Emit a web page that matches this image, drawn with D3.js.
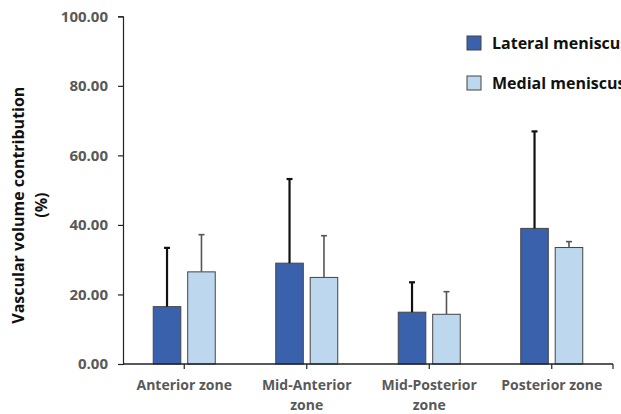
<!DOCTYPE html>
<html>
<head>
<meta charset="utf-8">
<script src="https://cdn.jsdelivr.net/npm/d3@7"></script>
<style>
  html, body { margin: 0; padding: 0; background: #fff; overflow: hidden; }
  svg { display: block; font-family: "Open Sans", "Liberation Sans", sans-serif; }
</style>
</head>
<body>
<svg id="chart" width="621" height="414"></svg>
<script>
// Zones along the meniscus (line breaks mark where the label wraps)
const categories = ["Anterior zone", "Mid-Anterior\nzone", "Mid-Posterior\nzone", "Posterior zone"];
const seriesNames = ["Lateral meniscus", "Medial meniscus"];
// Mean vascular volume contribution (%) per zone
const lateralMeans = [16.5, 29.0, 14.9, 39.0];
const medialMeans = [26.5, 24.9, 14.3, 33.5];
// Standard deviation (upper error bar)
const lateralSD = [16.9, 24.2, 8.6, 27.9];
const medialSD = [10.7, 12.0, 6.5, 1.7];
const yTicks = [0, 20, 40, 60, 80, 100];

const seriesStyle = {
  "Lateral meniscus": { fill: "#3A62AC", err: "#111111", errWidth: 2.2 },
  "Medial meniscus": { fill: "#BDD7EE", err: "#555555", errWidth: 1.6 }
};

const rows = categories.map((c, i) => ({
  category: c,
  values: [
    { series: seriesNames[0], mean: lateralMeans[i], sd: lateralSD[i] },
    { series: seriesNames[1], mean: medialMeans[i], sd: medialSD[i] }
  ]
}));

const svg = d3.select("#chart");
const plot = { left: 123, right: 613, top: 16.3, bottom: 364 };

const y = d3.scaleLinear().domain([0, 100]).range([plot.bottom, plot.top]);
const x = d3.scaleBand().domain(categories).range([plot.left, plot.right]).padding(0);
const inner = d3.scaleBand().domain(seriesNames).range([-31, 31]).paddingInner(0.2).paddingOuter(0);

// Y axis
const yAxis = svg.append("g")
  .attr("transform", `translate(${plot.left},0)`)
  .call(d3.axisLeft(y).tickValues(yTicks).tickFormat(d3.format(".2f")).tickSize(5).tickPadding(10));
yAxis.select(".domain").attr("stroke", "#222").attr("stroke-width", 1.2);
yAxis.selectAll(".tick line").attr("stroke", "#222").attr("stroke-width", 1.2);
yAxis.selectAll(".tick text")
  .attr("fill", "#595959").attr("font-size", 15).attr("font-weight", 700)
  .attr("font-family", "'Open Sans', sans-serif");

// Y axis title
svg.append("text")
  .attr("transform", `translate(24,${(plot.top + plot.bottom) / 2 + 15}) rotate(-90)`)
  .attr("text-anchor", "middle")
  .attr("font-size", 16).attr("font-weight", 700).attr("fill", "#111")
  .text("Vascular volume contribution");
svg.append("text")
  .attr("transform", `translate(47,${(plot.top + plot.bottom) / 2 + 15}) rotate(-90)`)
  .attr("text-anchor", "middle")
  .attr("font-size", 16).attr("font-weight", 700).attr("fill", "#111")
  .text("(%)");

// Bars
const groups = svg.append("g").selectAll("g")
  .data(rows).join("g")
  .attr("transform", d => `translate(${x(d.category) + x.bandwidth() / 2},0)`);

groups.selectAll("rect")
  .data(d => d.values).join("rect")
  .attr("x", d => inner(d.series))
  .attr("y", d => y(d.mean))
  .attr("width", inner.bandwidth())
  .attr("height", d => y(0) - y(d.mean))
  .attr("fill", d => seriesStyle[d.series].fill)
  .attr("stroke", "#444").attr("stroke-width", 1);

// Upper error bars
const err = groups.selectAll("g.err")
  .data(d => d.values).join("g").attr("class", "err")
  .attr("stroke", d => seriesStyle[d.series].err)
  .attr("stroke-width", d => seriesStyle[d.series].errWidth);
err.append("line")
  .attr("x1", d => inner(d.series) + inner.bandwidth() / 2)
  .attr("x2", d => inner(d.series) + inner.bandwidth() / 2)
  .attr("y1", d => y(d.mean))
  .attr("y2", d => y(d.mean + d.sd));
err.append("line")
  .attr("x1", d => inner(d.series) + inner.bandwidth() / 2 - 3)
  .attr("x2", d => inner(d.series) + inner.bandwidth() / 2 + 3)
  .attr("y1", d => y(d.mean + d.sd))
  .attr("y2", d => y(d.mean + d.sd));

// X axis with ticks at category centres
const xAxis = svg.append("g").attr("transform", `translate(0,${plot.bottom})`);
xAxis.append("line")
  .attr("x1", plot.left).attr("x2", plot.right)
  .attr("stroke", "#222").attr("stroke-width", 1.4);
xAxis.selectAll("line.tick")
  .data(categories.map(c => x(c) + x.bandwidth() / 2).concat([plot.right]))
  .join("line").attr("class", "tick")
  .attr("x1", d => d).attr("x2", d => d)
  .attr("y1", 0).attr("y2", 5)
  .attr("stroke", "#222").attr("stroke-width", 1.2);

const xLabels = xAxis.selectAll("text")
  .data(categories).join("text")
  .attr("x", d => x(d) + x.bandwidth() / 2)
  .attr("y", 26)
  .attr("text-anchor", "middle")
  .attr("font-size", 14).attr("font-weight", 700).attr("fill", "#595959");
xLabels.selectAll("tspan")
  .data(d => d.split("\n")).join("tspan")
  .attr("x", function () { return this.parentNode.getAttribute("x"); })
  .attr("dy", (d, i) => i === 0 ? 0 : 20)
  .text(d => d);

// Legend
const legend = svg.append("g").attr("transform", "translate(467,36)");
const items = legend.selectAll("g").data(seriesNames).join("g")
  .attr("transform", (d, i) => `translate(0,${i * 40})`);
items.append("rect")
  .attr("width", 14).attr("height", 14)
  .attr("fill", d => seriesStyle[d].fill)
  .attr("stroke", "#444").attr("stroke-width", 1);
items.append("text")
  .attr("x", 25).attr("y", 12.5)
  .attr("font-size", 16).attr("font-weight", 700).attr("fill", "#111")
  .text(d => d);
</script>
</body>
</html>
